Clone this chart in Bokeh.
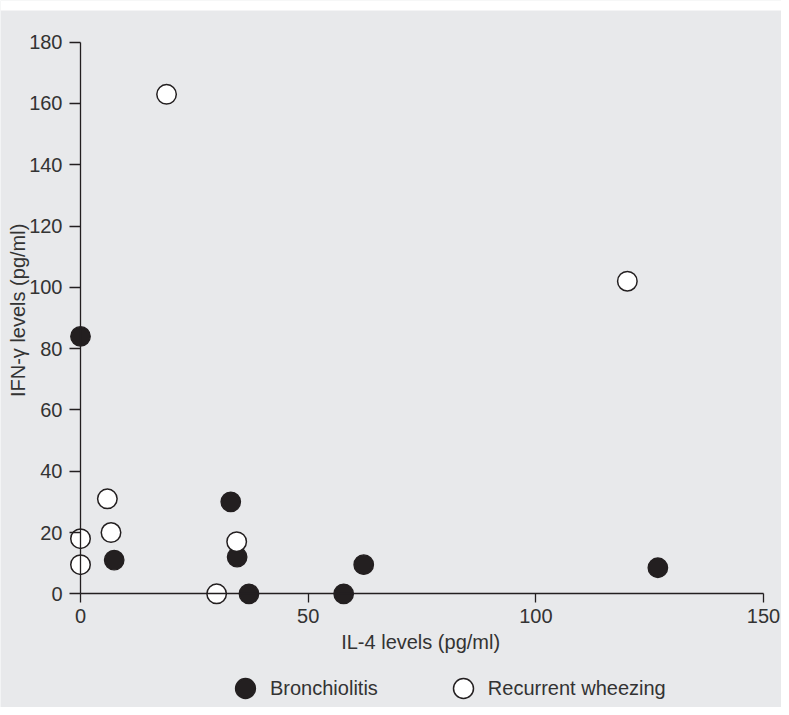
import math
from bokeh.plotting import figure
from bokeh.models import Range1d, FixedTicker, Label, Legend, LegendItem, BoxAnnotation
from bokeh.embed import file_html
from bokeh.resources import INLINE

# ---- data ----
bron_il4 = [0.0, 7.4, 33.0, 34.4, 37.0, 57.8, 62.2, 126.8]
bron_ifn = [84.0, 11.0, 30.0, 12.0, 0.0, 0.0, 9.5, 8.5]
wheeze_il4 = [18.9, 120.1, 0.0, 0.0, 5.9, 6.7, 29.9, 34.3]
wheeze_ifn = [163.0, 102.0, 18.0, 9.5, 31.0, 20.0, 0.0, 17.0]
x_ticks = [0, 50, 100, 150]
y_ticks = [0, 20, 40, 60, 80, 100, 120, 140, 160, 180]
x_label = "IL-4 levels (pg/ml)"
y_label = "IFN-\u03b3 levels (pg/ml)"
series_names = ["Bronchiolitis", "Recurrent wheezing"]

BG = "#e8e9eb"
INK = "#231f20"
TXT = "#333333"
FONT = "Liberation Sans"

W, H = 781, 707
px_x = 4.5533   # pixels per IL-4 unit
px_y = 3.0644   # pixels per IFN unit
x0_px, y0_px = 80.0, 593.3   # pixel position of the data origin

p = figure(width=W, height=H, output_backend="svg", toolbar_location=None,
           x_range=Range1d(-x0_px / px_x, (W - x0_px) / px_x),
           y_range=Range1d(-(H - y0_px) / px_y, y0_px / px_y),
           min_border=0, min_border_left=0, min_border_right=0,
           min_border_top=0, min_border_bottom=0)
p.background_fill_color = BG
p.border_fill_color = BG
p.outline_line_color = None
p.grid.visible = False

# thin white band at the very top, as in the reference
p.add_layout(BoxAnnotation(bottom=(y0_px - 10) / px_y, fill_color="white",
                           fill_alpha=1, line_color=None, level="underlay"))

for ax, ticks, b in ((p.xaxis, x_ticks, (0, 150)), (p.yaxis, y_ticks, (0, 180))):
    ax.fixed_location = 0
    ax.bounds = b
    ax.ticker = FixedTicker(ticks=ticks)
    ax.minor_tick_line_color = None
    ax.axis_line_color = INK
    ax.axis_line_width = 1.3
    ax.major_tick_line_color = INK
    ax.major_tick_line_width = 1.3
    ax.major_tick_in = 0
    ax.major_label_text_font = FONT
    ax.major_label_text_font_size = "20px"
    ax.major_label_text_color = TXT
p.yaxis.major_tick_out = 11
p.yaxis.major_label_standoff = 7
p.xaxis.major_tick_out = 9
p.xaxis.major_label_standoff = 6

r_bron = p.scatter(bron_il4, bron_ifn, size=19.5, marker="circle",
                   fill_color=INK, line_color=INK, line_width=1.3)
r_whz = p.scatter(wheeze_il4, wheeze_ifn, size=19.5, marker="circle",
                  fill_color="white", line_color=INK, line_width=1.5)

p.add_layout(Label(x=74.7, y=-15.8, text=x_label, text_align="center",
                   text_baseline="middle", text_font=FONT,
                   text_font_size="20px", text_color=TXT))
p.add_layout(Label(x=-13.8, y=92.5, text=y_label, angle=math.pi / 2,
                   text_align="center", text_baseline="middle",
                   text_font=FONT, text_font_size="20px", text_color=TXT))

legend = Legend(items=[LegendItem(label=series_names[0], renderers=[r_bron]),
                       LegendItem(label=series_names[1], renderers=[r_whz])],
                orientation="horizontal", location=(220, -6.3),
                glyph_width=50, glyph_height=50, label_standoff=-3,
                spacing=60, padding=0, margin=0,
                border_line_color=None, background_fill_alpha=0,
                label_text_font=FONT, label_text_font_size="20px",
                label_text_color=TXT)
p.add_layout(legend)

open("out.html", "w").write(file_html(p, INLINE))
